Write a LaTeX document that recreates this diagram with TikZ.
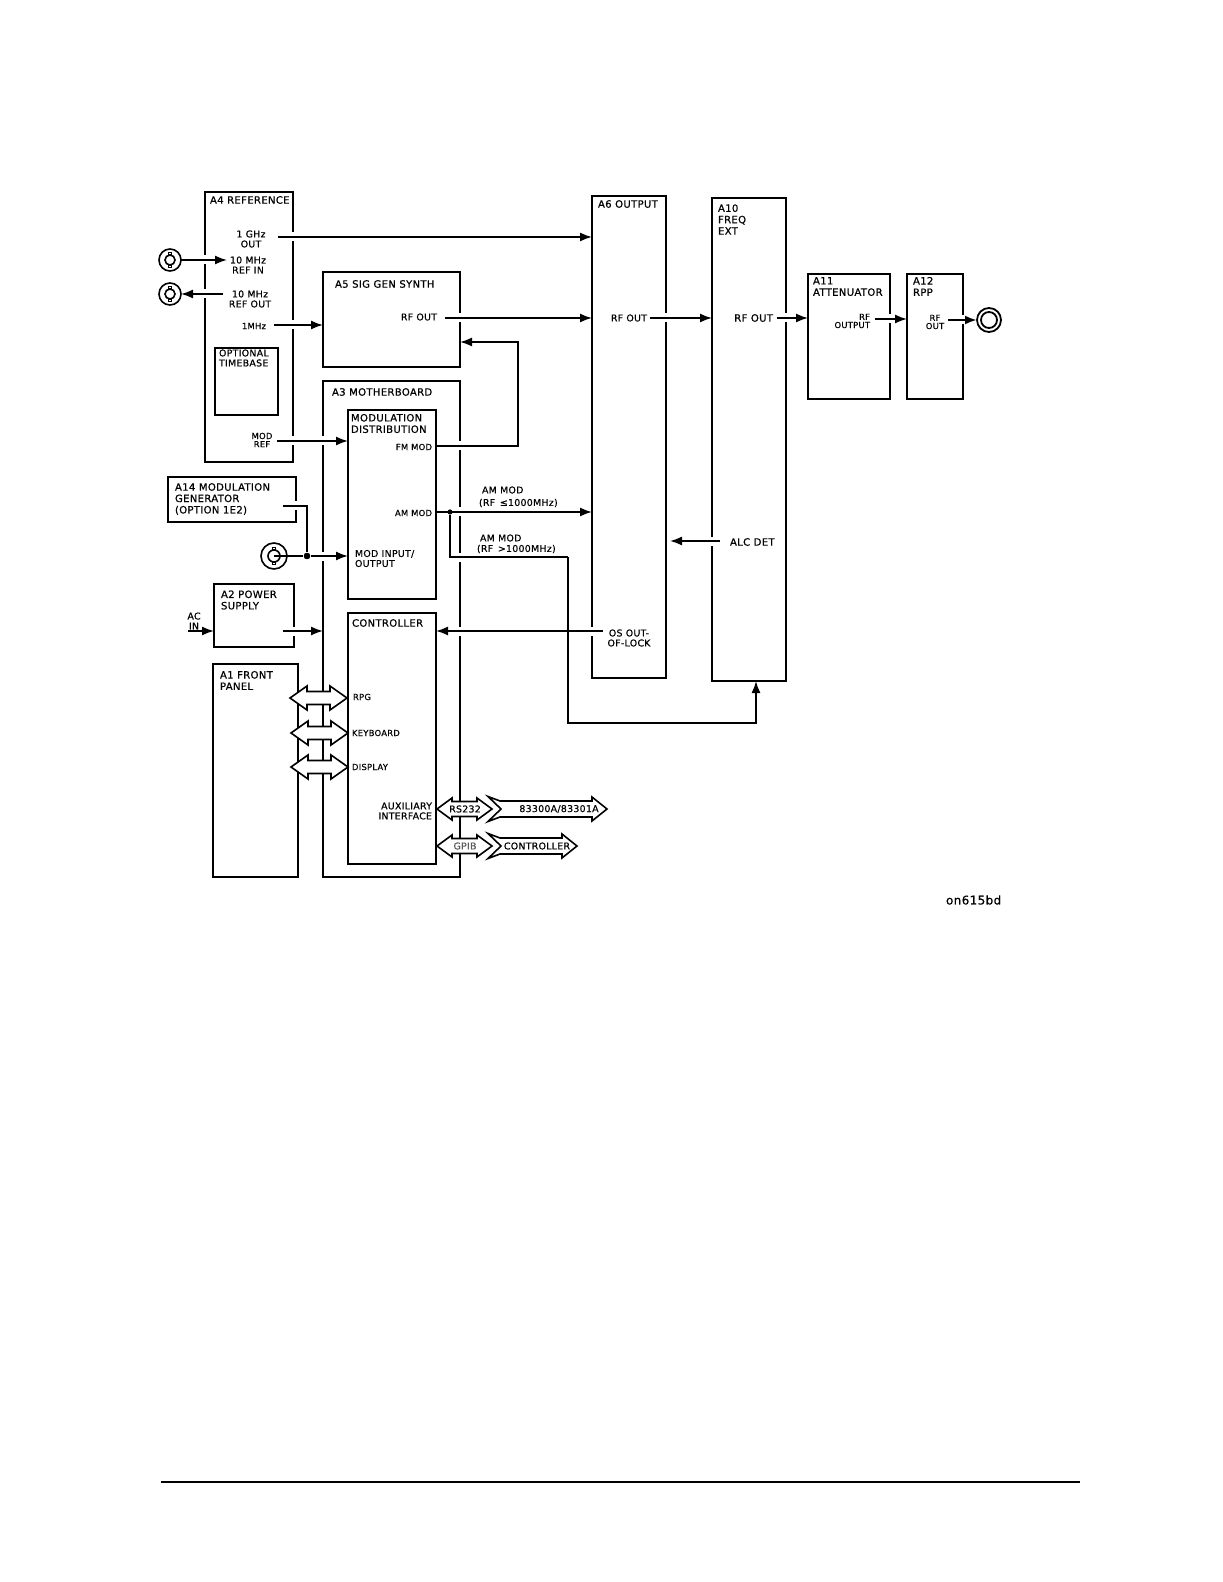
\documentclass[tikz,border=0pt]{standalone}
\usepackage{fontspec}
\setmainfont{DejaVu Sans}[FakeBold=0.5,LetterSpace=3]
\usetikzlibrary{arrows.meta}
\newcommand\tfont{\fontsize{5.05}{5.7}\selectfont}
\newcommand\mfont{\fontsize{4.7}{5}\selectfont}
\newcommand\sfont{\fontsize{4.2}{4.1}\selectfont}
\newcommand\bx[5]{\pgfmathsetlengthmacro\bw{(#4-#2)*0.5pt}\pgfmathsetlengthmacro\bh{(#5-#3)*0.5pt}\node[box,minimum width=\bw,minimum height=\bh] (#1) at (#2,#3) {};}
% fat double arrow: x1 x2 y headlen headhalf bodyhalf
\newcommand\fatarrow[6]{\filldraw[fat] (#1,#3) -- ({#1+#4},{#3-#5}) -- ({#1+#4},{#3-#6}) -- ({#2-#4},{#3-#6}) -- ({#2-#4},{#3-#5}) -- (#2,#3) -- ({#2-#4},{#3+#5}) -- ({#2-#4},{#3+#6}) -- ({#1+#4},{#3+#6}) -- ({#1+#4},{#3+#5}) -- cycle;}
% fletched arrow: x1 x2 y
\newcommand\fletch[3]{\filldraw[fat] (#1,{#3-12.5}) -- ({#1+12},{#3-8}) -- ({#2-15},{#3-8}) -- ({#2-15},{#3-12}) -- (#2,#3) -- ({#2-15},{#3+12}) -- ({#2-15},{#3+8}) -- ({#1+12},{#3+8}) -- (#1,{#3+12.5}) -- ({#1+13},#3) -- cycle;}
\begin{document}
\begin{tikzpicture}[x=0.5pt,y=-0.5pt,line join=miter,
  box/.style={draw,line width=1pt,inner sep=0pt,outer sep=0pt,anchor=north west},
  lbl/.style={inner sep=0pt,outer sep=0pt,font=\mfont},
  conn/.style={line width=0.8pt},
  arr/.style={conn,-{Latex[length=6pt,width=4.5pt]}},
  gap/.style={preaction={draw=white,line width=4.5pt,-,shorten <=1.5pt,shorten >=1.5pt}},
  fat/.style={fill=white,draw=black,line width=0.8pt},
  dot/.style={circle,fill=black,inner sep=0pt,minimum size=3.2pt},
  jack/.style={circle,draw,line width=0.8pt,inner sep=0pt,outer sep=0pt}]
\useasboundingbox[fill=white] (0,0) rectangle (1222,1582);

% ---------- boxes ----------
\bx{a4}{205}{192}{293}{462}
\bx{tb}{215}{348}{278}{415}
\bx{a5}{323}{272}{460}{367}
\bx{a3}{323}{381}{460}{877}
\bx{md}{348}{410}{436}{599}
\bx{a14}{168}{477}{296}{522}
\bx{a2}{214}{584}{294}{647}
\bx{a1}{213}{664}{298}{877}
\bx{ctl}{348}{613}{436}{864}
\bx{a6}{592}{196}{666}{678}
\bx{a10}{712}{198}{786}{681}
\bx{a11}{808}{274}{890}{399}
\bx{a12}{907}{274}{963}{399}

% ---------- jacks ----------
\node[jack,minimum size=11pt] (c1) at (170,260) {};
\node[jack,minimum size=11pt] (c2) at (170,294) {};
\node[jack,minimum size=13pt] (c4) at (274,556) {};
\node[jack,line width=0.9pt,minimum size=12pt] (c3) at (989,320) {};
\foreach \c/\r in {c1/2.5pt,c2/2.5pt,c4/3pt}{
  \draw[line width=0.8pt] (\c) circle[radius=\r];
  \draw[line width=0.6pt] ([shift={(-0.8pt,\r)}]\c.center) rectangle ([shift={(0.8pt,\r+1.1pt)}]\c.center);
  \draw[line width=0.6pt] ([shift={(-0.8pt,-\r)}]\c.center) rectangle ([shift={(0.8pt,-\r-1.1pt)}]\c.center);
}
\draw[line width=0.9pt] (c3) circle[radius=4pt];

% ---------- free ends ----------
\coordinate (s1g) at (278,237);
\coordinate (sro) at (223,294);
\coordinate (s1m) at (274,325);
\coordinate (smr) at (277,441);
\coordinate (srf5) at (445,318);
\coordinate (fm1) at (518,446);
\coordinate (fm2) at (518,342);
\coordinate (sos) at (603,631);
\coordinate (salc) at (720,541);
\coordinate (talcend) at (670,541);
\coordinate (srf6) at (650,318);
\coordinate (srf10) at (777,318);
\coordinate (srf11) at (875,319);
\coordinate (srf12) at (948,320);
\coordinate (s14) at (283,506);
\coordinate (b14) at (307,506);
\coordinate (sac) at (188,631);
\coordinate (sa2) at (283,631);
\coordinate (am1) at (450,557);
\coordinate (am2) at (568,557);
\coordinate (am3) at (568,723);
\coordinate (am4) at (756,723);
\coordinate (rin) at (227,260);
\node[dot] (j1) at (307,556) {};
\node[dot,minimum size=2.6pt] (j2) at (450,512) {};

% ---------- connectors ----------
\draw[arr,gap] (s1g) -- (a6.west |- s1g);
\draw[arr,gap] (c1.east) -- (rin);
\draw[arr,gap] (sro) -- (c2.east);
\draw[arr,gap] (s1m) -- (a5.west |- s1m);
\draw[arr,gap] (smr) -- (md.west |- smr);
\draw[arr,gap] (srf5) -- (a6.west |- srf5);
\draw[arr,gap] (md.east |- fm1) -- (fm1) -- (fm2) -- (a5.east |- fm2);
\draw[arr,gap] (md.east |- j2) -- (a6.west |- j2);
\draw[arr,gap] (sos) -- (ctl.east |- sos);
\draw[conn,gap] (j2) -- (am1) -- (am2);
\draw[arr] (am2) -- (am3) -- (am4) -- (am4 |- a10.south);
\draw[arr,gap] (salc) -- (talcend);
\draw[arr,gap] (srf6) -- (a10.west |- srf6);
\draw[arr,gap] (srf10) -- (a11.west |- srf10);
\draw[arr,gap] (srf11) -- (a12.west |- srf11);
\draw[arr,gap,line width=1.4pt] (srf12) -- (c3.west);
\draw[conn,gap] (s14) -- (b14) -- (j1);
\draw[conn] (c4.center) -- (j1);
\draw[arr,gap] (j1) -- (md.west |- j1);
\draw[arr] (sac) -- (a2.west |- sac);
\draw[arr,gap] (sa2) -- (a3.west |- sa2);
\node[dot] at (j1) {};
\node[dot,minimum size=2.6pt] at (j2) {};

% ---------- bus arrows ----------
\fatarrow{290}{347}{698}{17}{12}{6.5}
\fatarrow{291}{348}{733}{17}{12}{6.5}
\fatarrow{291}{348}{767}{17}{12}{6.5}
\fatarrow{437}{492}{809}{15}{11}{7.5}
\fatarrow{437}{492}{846}{15}{11}{7.5}
\fletch{488}{607}{809}
\fletch{488}{577}{846}

% ---------- labels ----------
\node[lbl,font=\tfont,anchor=west] (ta4) at (210,200) {A4 REFERENCE};
\node[lbl,align=center] (t1g) at (251,239) {1 GHz\\OUT};
\node[lbl,align=center] (tri) at (248,265) {10 MHz\\REF IN};
\node[lbl,align=center] (tro) at (250,299) {10 MHz\\REF OUT};
\node[lbl,font=\sfont,anchor=east] (t1m) at (266,326) {1MHz};
\node[lbl,align=left,anchor=west] (ttb) at (219,358) {OPTIONAL\\TIMEBASE};
\node[lbl,font=\sfont,align=center] (tmr) at (262,440) {MOD\\REF};
\node[lbl,font=\tfont,anchor=west] (ta5) at (335,284) {A5 SIG GEN SYNTH};
\node[lbl,anchor=east] (trf5) at (437,317) {RF OUT};
\node[lbl,font=\tfont,anchor=west] (ta3) at (332,392) {A3 MOTHERBOARD};
\node[lbl,font=\tfont,align=left,anchor=west] (tmd) at (351,423.5) {MODULATION\\DISTRIBUTION};
\node[lbl,font=\sfont,anchor=east] (tfm) at (432,447) {FM MOD};
\node[lbl,font=\sfont,anchor=east] (tam) at (432,513) {AM MOD};
\node[lbl,align=left,anchor=west] (tmio) at (355,558.5) {MOD INPUT/\\OUTPUT};
\node[lbl,font=\tfont,align=left,anchor=west] (ta14) at (175,499) {A14 MODULATION\\GENERATOR\\(OPTION 1E2)};
\node[lbl,font=\tfont,align=left,anchor=west] (ta2) at (221,600) {A2 POWER\\SUPPLY};
\node[lbl,align=center] (tac) at (194,621) {AC\\IN};
\node[lbl,font=\tfont,align=left,anchor=west] (ta1) at (220,680.5) {A1 FRONT\\PANEL};
\node[lbl,font=\tfont,anchor=west] (tctl) at (352,623) {CONTROLLER};
\node[lbl,font=\sfont,anchor=west] (trpg) at (353,697) {RPG};
\node[lbl,font=\sfont,anchor=west] (tkb) at (352,733) {KEYBOARD};
\node[lbl,font=\sfont,anchor=west] (tdsp) at (352,767) {DISPLAY};
\node[lbl,align=right,anchor=east] (taux) at (432,811) {AUXILIARY\\INTERFACE};
\node[lbl,anchor=west] (tam1) at (482,490) {AM MOD};
\node[lbl,anchor=west] (tam1b) at (479,503) {(RF\enspace≤1000MHz)};
\node[lbl,anchor=west] (tam2) at (480,538) {AM MOD};
\node[lbl,anchor=west] (tam2b) at (477,549) {(RF\enspace>1000MHz)};
\node[lbl,align=center] (tos) at (629,638) {OS OUT-\\OF-LOCK};
\node[lbl,font=\tfont,anchor=west] (ta6) at (598,204) {A6 OUTPUT};
\node[lbl,anchor=east] (trf6) at (647,318) {RF OUT};
\node[lbl,font=\tfont,align=left,anchor=west] (ta10) at (718,219.5) {A10\\FREQ\\EXT};
\node[lbl,font=\tfont,anchor=east] (trf10) at (773,318) {RF OUT};
\node[lbl,font=\tfont,anchor=west] (talc) at (730,542) {ALC DET};
\node[lbl,font=\tfont,align=left,anchor=west] (ta11) at (813,286.5) {A11\\ATTENUATOR};
\node[lbl,font=\sfont,align=right,anchor=east] (trf11) at (870,321) {RF\\OUTPUT};
\node[lbl,font=\tfont,align=left,anchor=west] (ta12) at (913,286.5) {A12\\RPP};
\node[lbl,font=\sfont,align=center] (trf12) at (935,322) {RF\\OUT};
\node[lbl] (trs) at (465,809) {RS232};
\node[lbl] (t833) at (559,809) {83300A/83301A};
\node[lbl,text=black!65] (tgpib) at (465,846) {GPIB};
\node[lbl] (tctl2) at (537,846) {CONTROLLER};
\node[lbl,font=\fontsize{6}{7}\selectfont,anchor=west] (tcode) at (946,900) {on615bd};

% ---------- page rule ----------
\draw[line width=1pt] (161,1482) -- (1080,1482);
\end{tikzpicture}
\end{document}
